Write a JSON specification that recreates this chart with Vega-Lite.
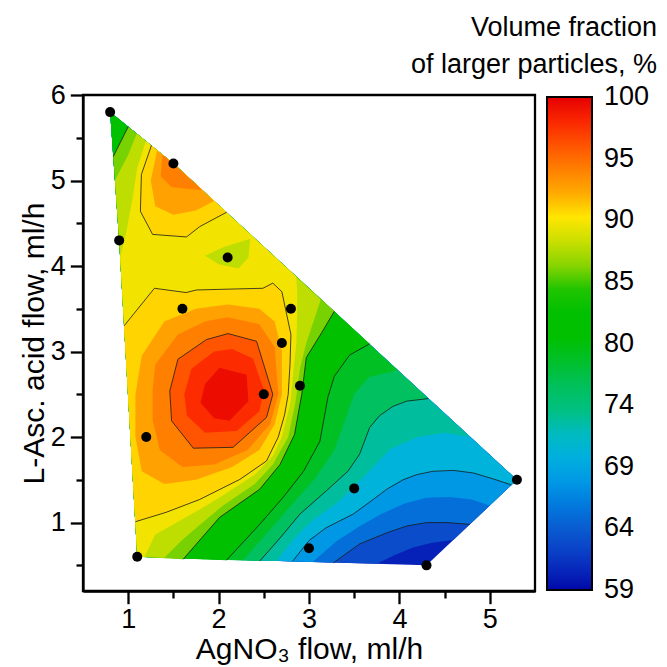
{
"$schema": "https://vega.github.io/schema/vega-lite/v6.json",
"width": 452, "height": 496,
"autosize": {"type": "none"},
"padding": {"left": 83, "top": 95, "right": 132, "bottom": 76},
"background": "white",
"config": {"font": "Liberation Sans", "view": {"stroke": "black", "strokeWidth": 2.3}},
"title": {"text": ["Volume fraction", "of larger particles, %"], "orient": "top", "anchor": "end", "frame": "group", "align": "right",
  "fontSize": 27, "fontWeight": "normal", "color": "black", "lineHeight": 37, "offset": 18, "dx": 122, "dy": 43, "baseline": "bottom"},
"datasets": {
"poly": [
{"p":"p00","i":0,"x":0.8,"y":5.8,"v":60.3},{"p":"p00","i":1,"x":1.5,"y":5.2,"v":60.3},{"p":"p00","i":2,"x":5.3,"y":1.5,"v":60.3},{"p":"p00","i":3,"x":4.3,"y":0.5,"v":60.3},{"p":"p00","i":4,"x":1.1,"y":0.6,"v":60.3},{"p":"p00","i":5,"x":0.9,"y":4.3,"v":60.3},
{"p":"p01","i":0,"x":3.75,"y":0.52,"v":63},{"p":"p01","i":1,"x":3.95,"y":0.62,"v":63},{"p":"p01","i":2,"x":4.15,"y":0.71,"v":63},{"p":"p01","i":3,"x":4.35,"y":0.76,"v":63},{"p":"p01","i":4,"x":4.6,"y":0.8,"v":63},{"p":"p01","i":5,"x":5.3,"y":1.5,"v":63},{"p":"p01","i":6,"x":1.5,"y":5.2,"v":63},{"p":"p01","i":7,"x":0.8,"y":5.8,"v":63},{"p":"p01","i":8,"x":0.9,"y":4.3,"v":63},{"p":"p01","i":9,"x":1.1,"y":0.6,"v":63},
{"p":"p02","i":0,"x":3.27,"y":0.53,"v":65.4},{"p":"p02","i":1,"x":3.56,"y":0.75,"v":65.4},{"p":"p02","i":2,"x":3.86,"y":0.88,"v":65.4},{"p":"p02","i":3,"x":4.08,"y":0.96,"v":65.4},{"p":"p02","i":4,"x":4.3,"y":1.0,"v":65.4},{"p":"p02","i":5,"x":4.52,"y":1.0,"v":65.4},{"p":"p02","i":6,"x":4.78,"y":0.98,"v":65.4},{"p":"p02","i":7,"x":5.3,"y":1.5,"v":65.4},{"p":"p02","i":8,"x":1.5,"y":5.2,"v":65.4},{"p":"p02","i":9,"x":0.8,"y":5.8,"v":65.4},{"p":"p02","i":10,"x":0.9,"y":4.3,"v":65.4},{"p":"p02","i":11,"x":1.1,"y":0.6,"v":65.4},
{"p":"p03","i":0,"x":3.04,"y":0.54,"v":68},{"p":"p03","i":1,"x":3.3,"y":0.78,"v":68},{"p":"p03","i":2,"x":3.55,"y":0.95,"v":68},{"p":"p03","i":3,"x":3.8,"y":1.1,"v":68},{"p":"p03","i":4,"x":4.05,"y":1.22,"v":68},{"p":"p03","i":5,"x":4.3,"y":1.29,"v":68},{"p":"p03","i":6,"x":4.55,"y":1.3,"v":68},{"p":"p03","i":7,"x":4.8,"y":1.27,"v":68},{"p":"p03","i":8,"x":5.0,"y":1.2,"v":68},{"p":"p03","i":9,"x":5.3,"y":1.5,"v":68},{"p":"p03","i":10,"x":1.5,"y":5.2,"v":68},{"p":"p03","i":11,"x":0.8,"y":5.8,"v":68},{"p":"p03","i":12,"x":0.9,"y":4.3,"v":68},{"p":"p03","i":13,"x":1.1,"y":0.6,"v":68},
{"p":"p04","i":0,"x":2.82,"y":0.55,"v":70.5},{"p":"p04","i":1,"x":3.0,"y":0.79,"v":70.5},{"p":"p04","i":2,"x":3.19,"y":0.94,"v":70.5},{"p":"p04","i":3,"x":3.49,"y":1.1,"v":70.5},{"p":"p04","i":4,"x":3.71,"y":1.27,"v":70.5},{"p":"p04","i":5,"x":3.86,"y":1.39,"v":70.5},{"p":"p04","i":6,"x":4.04,"y":1.5,"v":70.5},{"p":"p04","i":7,"x":4.19,"y":1.56,"v":70.5},{"p":"p04","i":8,"x":4.37,"y":1.6,"v":70.5},{"p":"p04","i":9,"x":4.6,"y":1.61,"v":70.5},{"p":"p04","i":10,"x":4.82,"y":1.58,"v":70.5},{"p":"p04","i":11,"x":5.04,"y":1.51,"v":70.5},{"p":"p04","i":12,"x":5.24,"y":1.44,"v":70.5},{"p":"p04","i":13,"x":5.3,"y":1.5,"v":70.5},{"p":"p04","i":14,"x":1.5,"y":5.2,"v":70.5},{"p":"p04","i":15,"x":0.8,"y":5.8,"v":70.5},{"p":"p04","i":16,"x":0.9,"y":4.3,"v":70.5},{"p":"p04","i":17,"x":1.1,"y":0.6,"v":70.5},
{"p":"p05","i":0,"x":2.64,"y":0.55,"v":73.1},{"p":"p05","i":1,"x":2.84,"y":0.82,"v":73.1},{"p":"p05","i":2,"x":3.05,"y":1.04,"v":73.1},{"p":"p05","i":3,"x":3.3,"y":1.22,"v":73.1},{"p":"p05","i":4,"x":3.6,"y":1.53,"v":73.1},{"p":"p05","i":5,"x":3.9,"y":1.86,"v":73.1},{"p":"p05","i":6,"x":4.2,"y":2.0,"v":73.1},{"p":"p05","i":7,"x":4.5,"y":2.05,"v":73.1},{"p":"p05","i":8,"x":4.78,"y":2.0,"v":73.1},{"p":"p05","i":9,"x":1.5,"y":5.2,"v":73.1},{"p":"p05","i":10,"x":0.8,"y":5.8,"v":73.1},{"p":"p05","i":11,"x":0.9,"y":4.3,"v":73.1},{"p":"p05","i":12,"x":1.1,"y":0.6,"v":73.1},
{"p":"p06","i":0,"x":2.455,"y":0.55,"v":75.7},{"p":"p06","i":1,"x":2.68,"y":0.82,"v":75.7},{"p":"p06","i":2,"x":2.9,"y":1.1,"v":75.7},{"p":"p06","i":3,"x":3.19,"y":1.37,"v":75.7},{"p":"p06","i":4,"x":3.43,"y":1.6,"v":75.7},{"p":"p06","i":5,"x":3.56,"y":1.8,"v":75.7},{"p":"p06","i":6,"x":3.67,"y":2.11,"v":75.7},{"p":"p06","i":7,"x":3.78,"y":2.25,"v":75.7},{"p":"p06","i":8,"x":3.93,"y":2.36,"v":75.7},{"p":"p06","i":9,"x":4.08,"y":2.42,"v":75.7},{"p":"p06","i":10,"x":4.32,"y":2.45,"v":75.7},{"p":"p06","i":11,"x":1.5,"y":5.2,"v":75.7},{"p":"p06","i":12,"x":0.8,"y":5.8,"v":75.7},{"p":"p06","i":13,"x":0.9,"y":4.3,"v":75.7},{"p":"p06","i":14,"x":1.1,"y":0.6,"v":75.7},
{"p":"p07","i":0,"x":2.27,"y":0.56,"v":78.3},{"p":"p07","i":1,"x":2.57,"y":0.92,"v":78.3},{"p":"p07","i":2,"x":2.82,"y":1.22,"v":78.3},{"p":"p07","i":3,"x":3.07,"y":1.52,"v":78.3},{"p":"p07","i":4,"x":3.28,"y":1.85,"v":78.3},{"p":"p07","i":5,"x":3.4,"y":2.2,"v":78.3},{"p":"p07","i":6,"x":3.5,"y":2.5,"v":78.3},{"p":"p07","i":7,"x":3.66,"y":2.7,"v":78.3},{"p":"p07","i":8,"x":3.98,"y":2.78,"v":78.3},{"p":"p07","i":9,"x":1.5,"y":5.2,"v":78.3},{"p":"p07","i":10,"x":0.8,"y":5.8,"v":78.3},{"p":"p07","i":11,"x":0.9,"y":4.3,"v":78.3},{"p":"p07","i":12,"x":1.1,"y":0.6,"v":78.3},
{"p":"p08","i":0,"x":2.087,"y":0.56,"v":80.7},{"p":"p08","i":1,"x":2.455,"y":0.98,"v":80.7},{"p":"p08","i":2,"x":2.71,"y":1.29,"v":80.7},{"p":"p08","i":3,"x":2.94,"y":1.6,"v":80.7},{"p":"p08","i":4,"x":3.12,"y":1.95,"v":80.7},{"p":"p08","i":5,"x":3.21,"y":2.47,"v":80.7},{"p":"p08","i":6,"x":3.28,"y":2.71,"v":80.7},{"p":"p08","i":7,"x":3.45,"y":2.96,"v":80.7},{"p":"p08","i":8,"x":3.67,"y":3.09,"v":80.7},{"p":"p08","i":9,"x":1.5,"y":5.2,"v":80.7},{"p":"p08","i":10,"x":0.8,"y":5.8,"v":80.7},{"p":"p08","i":11,"x":0.9,"y":4.3,"v":80.7},{"p":"p08","i":12,"x":1.1,"y":0.6,"v":80.7},
{"p":"p09","i":0,"x":1.85,"y":0.57,"v":83.3},{"p":"p09","i":1,"x":2.25,"y":1.03,"v":83.3},{"p":"p09","i":2,"x":2.6,"y":1.35,"v":83.3},{"p":"p09","i":3,"x":2.82,"y":1.65,"v":83.3},{"p":"p09","i":4,"x":2.98,"y":2.0,"v":83.3},{"p":"p09","i":5,"x":3.06,"y":2.48,"v":83.3},{"p":"p09","i":6,"x":3.12,"y":2.82,"v":83.3},{"p":"p09","i":7,"x":3.3,"y":3.1,"v":83.3},{"p":"p09","i":8,"x":3.47,"y":3.28,"v":83.3},{"p":"p09","i":9,"x":1.5,"y":5.2,"v":83.3},{"p":"p09","i":10,"x":0.88,"y":5.73,"v":83.3},{"p":"p09","i":11,"x":0.815,"y":5.6,"v":83.3},{"p":"p09","i":12,"x":0.9,"y":4.3,"v":83.3},{"p":"p09","i":13,"x":1.1,"y":0.6,"v":83.3},
{"p":"p10","i":0,"x":1.607,"y":0.57,"v":85.6},{"p":"p10","i":1,"x":2.01,"y":1.06,"v":85.6},{"p":"p10","i":2,"x":2.455,"y":1.39,"v":85.6},{"p":"p10","i":3,"x":2.68,"y":1.68,"v":85.6},{"p":"p10","i":4,"x":2.84,"y":2.03,"v":85.6},{"p":"p10","i":5,"x":2.92,"y":2.5,"v":85.6},{"p":"p10","i":6,"x":2.97,"y":2.93,"v":85.6},{"p":"p10","i":7,"x":3.14,"y":3.22,"v":85.6},{"p":"p10","i":8,"x":3.28,"y":3.47,"v":85.6},{"p":"p10","i":9,"x":1.5,"y":5.2,"v":85.6},{"p":"p10","i":10,"x":1.0,"y":5.63,"v":85.6},{"p":"p10","i":11,"x":0.835,"y":5.28,"v":85.6},{"p":"p10","i":12,"x":0.9,"y":4.3,"v":85.6},{"p":"p10","i":13,"x":1.1,"y":0.6,"v":85.6},
{"p":"p11","i":0,"x":1.4,"y":0.59,"v":87.5},{"p":"p11","i":1,"x":1.6,"y":0.8,"v":87.5},{"p":"p11","i":2,"x":1.8,"y":0.98,"v":87.5},{"p":"p11","i":3,"x":2.05,"y":1.2,"v":87.5},{"p":"p11","i":4,"x":2.4,"y":1.45,"v":87.5},{"p":"p11","i":5,"x":2.6,"y":1.68,"v":87.5},{"p":"p11","i":6,"x":2.77,"y":2.0,"v":87.5},{"p":"p11","i":7,"x":2.85,"y":2.4,"v":87.5},{"p":"p11","i":8,"x":2.9,"y":2.8,"v":87.5},{"p":"p11","i":9,"x":2.97,"y":3.1,"v":87.5},{"p":"p11","i":10,"x":3.05,"y":3.35,"v":87.5},{"p":"p11","i":11,"x":3.13,"y":3.61,"v":87.5},{"p":"p11","i":12,"x":1.5,"y":5.2,"v":87.5},{"p":"p11","i":13,"x":1.095,"y":5.55,"v":87.5},{"p":"p11","i":14,"x":1.0,"y":5.3,"v":87.5},{"p":"p11","i":15,"x":0.853,"y":5.0,"v":87.5},{"p":"p11","i":16,"x":0.9,"y":4.3,"v":87.5},{"p":"p11","i":17,"x":1.1,"y":0.6,"v":87.5},
{"p":"p12","i":0,"x":1.18,"y":0.6,"v":89.5},{"p":"p12","i":1,"x":1.3,"y":0.86,"v":89.5},{"p":"p12","i":2,"x":1.6,"y":1.04,"v":89.5},{"p":"p12","i":3,"x":1.8,"y":1.16,"v":89.5},{"p":"p12","i":4,"x":2.05,"y":1.32,"v":89.5},{"p":"p12","i":5,"x":2.4,"y":1.56,"v":89.5},{"p":"p12","i":6,"x":2.6,"y":1.78,"v":89.5},{"p":"p12","i":7,"x":2.7,"y":2.0,"v":89.5},{"p":"p12","i":8,"x":2.795,"y":2.4,"v":89.5},{"p":"p12","i":9,"x":2.83,"y":2.8,"v":89.5},{"p":"p12","i":10,"x":2.86,"y":3.1,"v":89.5},{"p":"p12","i":11,"x":2.87,"y":3.45,"v":89.5},{"p":"p12","i":12,"x":2.87,"y":3.7,"v":89.5},{"p":"p12","i":13,"x":2.86,"y":3.875,"v":89.5},{"p":"p12","i":14,"x":1.5,"y":5.2,"v":89.5},{"p":"p12","i":15,"x":1.195,"y":5.46,"v":89.5},{"p":"p12","i":16,"x":1.1,"y":5.15,"v":89.5},{"p":"p12","i":17,"x":1.05,"y":4.8,"v":89.5},{"p":"p12","i":18,"x":0.98,"y":4.4,"v":89.5},{"p":"p12","i":19,"x":0.911,"y":4.1,"v":89.5},{"p":"p12","i":20,"x":1.1,"y":0.6,"v":89.5},{"p":"p12","i":21,"x":1.18,"y":0.6,"v":89.5},{"p":"p12","i":22,"x":1.85,"y":4.12,"v":89.5},{"p":"p12","i":23,"x":2.05,"y":4.22,"v":89.5},{"p":"p12","i":24,"x":2.35,"y":4.32,"v":89.5},{"p":"p12","i":25,"x":2.33,"y":4.1,"v":89.5},{"p":"p12","i":26,"x":2.22,"y":3.97,"v":89.5},{"p":"p12","i":27,"x":2.0,"y":4.02,"v":89.5},{"p":"p12","i":28,"x":1.85,"y":4.12,"v":89.5},{"p":"p12","i":29,"x":1.18,"y":0.6,"v":89.5},
{"p":"p13","i":0,"x":0.954,"y":3.3,"v":90.6},{"p":"p13","i":1,"x":1.29,"y":3.74,"v":90.6},{"p":"p13","i":2,"x":1.64,"y":3.69,"v":90.6},{"p":"p13","i":3,"x":1.755,"y":3.72,"v":90.6},{"p":"p13","i":4,"x":2.49,"y":3.74,"v":90.6},{"p":"p13","i":5,"x":2.6,"y":3.8,"v":90.6},{"p":"p13","i":6,"x":2.7,"y":3.7,"v":90.6},{"p":"p13","i":7,"x":2.75,"y":3.45,"v":90.6},{"p":"p13","i":8,"x":2.8,"y":3.2,"v":90.6},{"p":"p13","i":9,"x":2.79,"y":2.85,"v":90.6},{"p":"p13","i":10,"x":2.77,"y":2.5,"v":90.6},{"p":"p13","i":11,"x":2.73,"y":2.26,"v":90.6},{"p":"p13","i":12,"x":2.66,"y":2.0,"v":90.6},{"p":"p13","i":13,"x":2.53,"y":1.72,"v":90.6},{"p":"p13","i":14,"x":2.235,"y":1.505,"v":90.6},{"p":"p13","i":15,"x":1.79,"y":1.27,"v":90.6},{"p":"p13","i":16,"x":1.42,"y":1.12,"v":90.6},{"p":"p13","i":17,"x":1.08,"y":1.01,"v":90.6},
{"p":"p14","i":0,"x":1.257,"y":5.41,"v":90.6},{"p":"p14","i":1,"x":1.146,"y":5.07,"v":90.6},{"p":"p14","i":2,"x":1.135,"y":4.64,"v":90.6},{"p":"p14","i":3,"x":1.27,"y":4.37,"v":90.6},{"p":"p14","i":4,"x":1.645,"y":4.34,"v":90.6},{"p":"p14","i":5,"x":1.79,"y":4.46,"v":90.6},{"p":"p14","i":6,"x":2.09,"y":4.63,"v":90.6},{"p":"p14","i":7,"x":1.5,"y":5.2,"v":90.6},
{"p":"p15","i":0,"x":1.08,"y":2.5,"v":92.4},{"p":"p15","i":1,"x":1.15,"y":2.95,"v":92.4},{"p":"p15","i":2,"x":1.4,"y":3.35,"v":92.4},{"p":"p15","i":3,"x":1.75,"y":3.5,"v":92.4},{"p":"p15","i":4,"x":2.1,"y":3.55,"v":92.4},{"p":"p15","i":5,"x":2.45,"y":3.5,"v":92.4},{"p":"p15","i":6,"x":2.62,"y":3.35,"v":92.4},{"p":"p15","i":7,"x":2.7,"y":3.0,"v":92.4},{"p":"p15","i":8,"x":2.7,"y":2.5,"v":92.4},{"p":"p15","i":9,"x":2.62,"y":2.15,"v":92.4},{"p":"p15","i":10,"x":2.45,"y":1.85,"v":92.4},{"p":"p15","i":11,"x":2.15,"y":1.65,"v":92.4},{"p":"p15","i":12,"x":1.75,"y":1.5,"v":92.4},{"p":"p15","i":13,"x":1.4,"y":1.45,"v":92.4},{"p":"p15","i":14,"x":1.15,"y":1.6,"v":92.4},{"p":"p15","i":15,"x":1.08,"y":2.0,"v":92.4},
{"p":"p16","i":0,"x":1.32,"y":5.35,"v":92.4},{"p":"p16","i":1,"x":1.25,"y":5.0,"v":92.4},{"p":"p16","i":2,"x":1.3,"y":4.7,"v":92.4},{"p":"p16","i":3,"x":1.5,"y":4.6,"v":92.4},{"p":"p16","i":4,"x":1.75,"y":4.65,"v":92.4},{"p":"p16","i":5,"x":1.95,"y":4.76,"v":92.4},{"p":"p16","i":6,"x":1.5,"y":5.2,"v":92.4},
{"p":"p17","i":0,"x":1.27,"y":2.2,"v":94},{"p":"p17","i":1,"x":1.27,"y":2.55,"v":94},{"p":"p17","i":2,"x":1.3,"y":2.85,"v":94},{"p":"p17","i":3,"x":1.55,"y":3.2,"v":94},{"p":"p17","i":4,"x":1.85,"y":3.35,"v":94},{"p":"p17","i":5,"x":2.1,"y":3.4,"v":94},{"p":"p17","i":6,"x":2.45,"y":3.32,"v":94},{"p":"p17","i":7,"x":2.62,"y":3.05,"v":94},{"p":"p17","i":8,"x":2.66,"y":2.5,"v":94},{"p":"p17","i":9,"x":2.57,"y":2.15,"v":94},{"p":"p17","i":10,"x":2.32,"y":1.85,"v":94},{"p":"p17","i":11,"x":1.95,"y":1.68,"v":94},{"p":"p17","i":12,"x":1.6,"y":1.65,"v":94},{"p":"p17","i":13,"x":1.35,"y":1.85,"v":94},
{"p":"p18","i":0,"x":1.38,"y":5.3,"v":94},{"p":"p18","i":1,"x":1.36,"y":5.05,"v":94},{"p":"p18","i":2,"x":1.48,"y":4.92,"v":94},{"p":"p18","i":3,"x":1.68,"y":4.9,"v":94},{"p":"p18","i":4,"x":1.82,"y":4.89,"v":94},{"p":"p18","i":5,"x":1.5,"y":5.2,"v":94},
{"p":"p19","i":0,"x":1.46,"y":2.54,"v":95.9},{"p":"p19","i":1,"x":1.55,"y":2.91,"v":95.9},{"p":"p19","i":2,"x":1.866,"y":3.14,"v":95.9},{"p":"p19","i":3,"x":2.105,"y":3.21,"v":95.9},{"p":"p19","i":4,"x":2.42,"y":3.12,"v":95.9},{"p":"p19","i":5,"x":2.6,"y":2.5,"v":95.9},{"p":"p19","i":6,"x":2.53,"y":2.23,"v":95.9},{"p":"p19","i":7,"x":2.16,"y":1.88,"v":95.9},{"p":"p19","i":8,"x":1.72,"y":1.87,"v":95.9},{"p":"p19","i":9,"x":1.48,"y":2.19,"v":95.9},
{"p":"p20","i":0,"x":1.62,"y":2.5,"v":97.7},{"p":"p20","i":1,"x":1.7,"y":2.8,"v":97.7},{"p":"p20","i":2,"x":1.95,"y":3.0,"v":97.7},{"p":"p20","i":3,"x":2.15,"y":3.03,"v":97.7},{"p":"p20","i":4,"x":2.38,"y":2.92,"v":97.7},{"p":"p20","i":5,"x":2.5,"y":2.55,"v":97.7},{"p":"p20","i":6,"x":2.45,"y":2.3,"v":97.7},{"p":"p20","i":7,"x":2.2,"y":2.07,"v":97.7},{"p":"p20","i":8,"x":1.85,"y":2.05,"v":97.7},{"p":"p20","i":9,"x":1.65,"y":2.25,"v":97.7},
{"p":"p21","i":0,"x":1.8,"y":2.4,"v":99.4},{"p":"p21","i":1,"x":1.85,"y":2.62,"v":99.4},{"p":"p21","i":2,"x":2.01,"y":2.81,"v":99.4},{"p":"p21","i":3,"x":2.31,"y":2.73,"v":99.4},{"p":"p21","i":4,"x":2.33,"y":2.42,"v":99.4},{"p":"p21","i":5,"x":2.12,"y":2.19,"v":99.4},{"p":"p21","i":6,"x":1.95,"y":2.22,"v":99.4}
],
"lines": [
{"c":"A","i":0,"x":0.835,"y":5.28},{"c":"A","i":1,"x":1.0,"y":5.63},
{"c":"B","i":0,"x":1.257,"y":5.41},{"c":"B","i":1,"x":1.146,"y":5.07},{"c":"B","i":2,"x":1.135,"y":4.64},{"c":"B","i":3,"x":1.27,"y":4.37},{"c":"B","i":4,"x":1.645,"y":4.34},{"c":"B","i":5,"x":1.79,"y":4.46},{"c":"B","i":6,"x":2.09,"y":4.63},
{"c":"C","i":0,"x":0.954,"y":3.3},{"c":"C","i":1,"x":1.29,"y":3.74},{"c":"C","i":2,"x":1.64,"y":3.69},{"c":"C","i":3,"x":1.755,"y":3.72},{"c":"C","i":4,"x":2.49,"y":3.74},{"c":"C","i":5,"x":2.6,"y":3.8},{"c":"C","i":6,"x":2.7,"y":3.7},{"c":"C","i":7,"x":2.75,"y":3.45},{"c":"C","i":8,"x":2.8,"y":3.2},{"c":"C","i":9,"x":2.79,"y":2.85},{"c":"C","i":10,"x":2.77,"y":2.5},{"c":"C","i":11,"x":2.73,"y":2.26},{"c":"C","i":12,"x":2.66,"y":2.0},{"c":"C","i":13,"x":2.53,"y":1.72},{"c":"C","i":14,"x":2.235,"y":1.505},{"c":"C","i":15,"x":1.79,"y":1.27},{"c":"C","i":16,"x":1.42,"y":1.12},{"c":"C","i":17,"x":1.08,"y":1.01},
{"c":"D","i":0,"x":1.46,"y":2.54},{"c":"D","i":1,"x":1.55,"y":2.91},{"c":"D","i":2,"x":1.866,"y":3.14},{"c":"D","i":3,"x":2.105,"y":3.21},{"c":"D","i":4,"x":2.42,"y":3.12},{"c":"D","i":5,"x":2.6,"y":2.5},{"c":"D","i":6,"x":2.53,"y":2.23},{"c":"D","i":7,"x":2.16,"y":1.88},{"c":"D","i":8,"x":1.72,"y":1.87},{"c":"D","i":9,"x":1.48,"y":2.19},{"c":"D","i":10,"x":1.46,"y":2.54},
{"c":"E","i":0,"x":1.607,"y":0.57},{"c":"E","i":1,"x":2.01,"y":1.06},{"c":"E","i":2,"x":2.455,"y":1.39},{"c":"E","i":3,"x":2.68,"y":1.68},{"c":"E","i":4,"x":2.84,"y":2.03},{"c":"E","i":5,"x":2.92,"y":2.5},{"c":"E","i":6,"x":2.97,"y":2.93},{"c":"E","i":7,"x":3.14,"y":3.22},{"c":"E","i":8,"x":3.28,"y":3.47},
{"c":"F","i":0,"x":2.087,"y":0.56},{"c":"F","i":1,"x":2.455,"y":0.98},{"c":"F","i":2,"x":2.71,"y":1.29},{"c":"F","i":3,"x":2.94,"y":1.6},{"c":"F","i":4,"x":3.12,"y":1.95},{"c":"F","i":5,"x":3.21,"y":2.47},{"c":"F","i":6,"x":3.28,"y":2.71},{"c":"F","i":7,"x":3.45,"y":2.96},{"c":"F","i":8,"x":3.67,"y":3.09},
{"c":"G","i":0,"x":2.455,"y":0.55},{"c":"G","i":1,"x":2.68,"y":0.82},{"c":"G","i":2,"x":2.9,"y":1.1},{"c":"G","i":3,"x":3.19,"y":1.37},{"c":"G","i":4,"x":3.43,"y":1.6},{"c":"G","i":5,"x":3.56,"y":1.8},{"c":"G","i":6,"x":3.67,"y":2.11},{"c":"G","i":7,"x":3.78,"y":2.25},{"c":"G","i":8,"x":3.93,"y":2.36},{"c":"G","i":9,"x":4.08,"y":2.42},{"c":"G","i":10,"x":4.32,"y":2.45},
{"c":"H","i":0,"x":2.82,"y":0.55},{"c":"H","i":1,"x":3.0,"y":0.79},{"c":"H","i":2,"x":3.19,"y":0.94},{"c":"H","i":3,"x":3.49,"y":1.1},{"c":"H","i":4,"x":3.71,"y":1.27},{"c":"H","i":5,"x":3.86,"y":1.39},{"c":"H","i":6,"x":4.04,"y":1.5},{"c":"H","i":7,"x":4.19,"y":1.56},{"c":"H","i":8,"x":4.37,"y":1.6},{"c":"H","i":9,"x":4.6,"y":1.61},{"c":"H","i":10,"x":4.82,"y":1.58},{"c":"H","i":11,"x":5.04,"y":1.51},{"c":"H","i":12,"x":5.24,"y":1.44},
{"c":"I","i":0,"x":3.27,"y":0.53},{"c":"I","i":1,"x":3.56,"y":0.75},{"c":"I","i":2,"x":3.86,"y":0.88},{"c":"I","i":3,"x":4.08,"y":0.96},{"c":"I","i":4,"x":4.3,"y":1.0},{"c":"I","i":5,"x":4.52,"y":1.0},{"c":"I","i":6,"x":4.78,"y":0.98}
],
"pts": [
{"x":0.8,"y":5.8},{"x":1.5,"y":5.2},{"x":0.9,"y":4.3},{"x":2.1,"y":4.1},{"x":1.6,"y":3.5},{"x":2.8,"y":3.5},{"x":2.7,"y":3.1},{"x":2.9,"y":2.6},{"x":2.5,"y":2.5},{"x":1.2,"y":2.0},{"x":3.5,"y":1.4},{"x":5.3,"y":1.5},{"x":1.1,"y":0.6},{"x":3.0,"y":0.7},{"x":4.3,"y":0.5}
]
},
"encoding": {
"x": {"field": "x", "type": "quantitative", "scale": {"domain": [0.5, 5.5], "nice": false, "zero": false},
 "axis": {"values": [1,1.5,2,2.5,3,3.5,4,4.5,5], "format": ".0f", "labelExpr": "datum.value % 1 === 0 ? datum.label : ''",
  "tickSize": {"condition": {"test": "datum.value % 1 !== 0", "value": 7}, "value": 12.7},
  "tickWidth": 2.3, "tickColor": "black", "domainColor": "black", "domainWidth": 2.3, "grid": false,
  "labelFontSize": 27, "labelColor": "black", "labelPadding": 3, "labelFlush": false, "labelOverlap": false,
  "title": "AgNO₃ flow, ml/h", "titleFontSize": 30, "titleFontWeight": "normal", "titleColor": "black", "titlePadding": 2}},
"y": {"field": "y", "type": "quantitative", "scale": {"domain": [0.2, 6.0], "nice": false, "zero": false},
 "axis": {"values": [0.5,1,1.5,2,2.5,3,3.5,4,4.5,5,5.5,6], "format": ".0f", "labelExpr": "datum.value % 1 === 0 ? datum.label : ''",
  "tickSize": {"condition": {"test": "datum.value % 1 !== 0", "value": 7}, "value": 12.7},
  "tickWidth": 2.3, "tickColor": "black", "domainColor": "black", "domainWidth": 2.3, "grid": false,
  "labelFontSize": 27, "labelColor": "black", "labelPadding": 5, "labelFlush": false, "labelOverlap": false,
  "title": "L-Asc. acid flow, ml/h", "titleFontSize": 30, "titleFontWeight": "normal", "titleColor": "black", "titlePadding": 1}}
},
"layer": [
{"data": {"name": "poly"},
 "mark": {"type": "line", "stroke": "transparent", "strokeWidth": 0},
 "encoding": {
  "detail": {"field": "p", "type": "nominal"},
  "order": {"field": "i", "type": "quantitative"},
  "fill": {"field": "v", "type": "quantitative",
   "scale": {"domain": [59,61,64,66.5,69,71.5,74,77,79.5,83.5,85,87,90,92,95,97.5,100],
     "range": ["#0008a8","#0a2fbf","#0a5ad0","#0080e0","#00a8e8","#00bad0","#00c080","#00c048","#00c000","#00c000","#60cc00","#b0dc00","#ffe600","#ffaa00","#ff6a00","#ff3000","#e60000"],
     "interpolate": "rgb"},
   "legend": {"type": "gradient", "orient": "none", "legendX": 464, "legendY": 2, "direction": "vertical", "padding": 0,
     "gradientLength": 493, "gradientThickness": 45, "gradientStrokeColor": "black", "gradientStrokeWidth": 2,
     "title": null,
     "values": [59, 64.125, 69.25, 74.375, 79.5, 84.625, 89.75, 94.875, 100], "format": ".0f",
     "labelFontSize": 27, "labelColor": "black", "labelOffset": 12, "labelOverlap": false, "labelBaseline": "middle",
     "encode": {"labels": {"update": {"baseline": {"value": "middle"}}}}}}
 }},
{"data": {"name": "lines"},
 "mark": {"type": "line", "color": "#1a1a1a", "strokeWidth": 0.8},
 "encoding": {"detail": {"field": "c", "type": "nominal"}, "order": {"field": "i", "type": "quantitative"}}},
{"data": {"name": "pts"},
 "mark": {"type": "circle", "color": "black", "size": 100, "opacity": 1},
 "encoding": {}}
]
}
